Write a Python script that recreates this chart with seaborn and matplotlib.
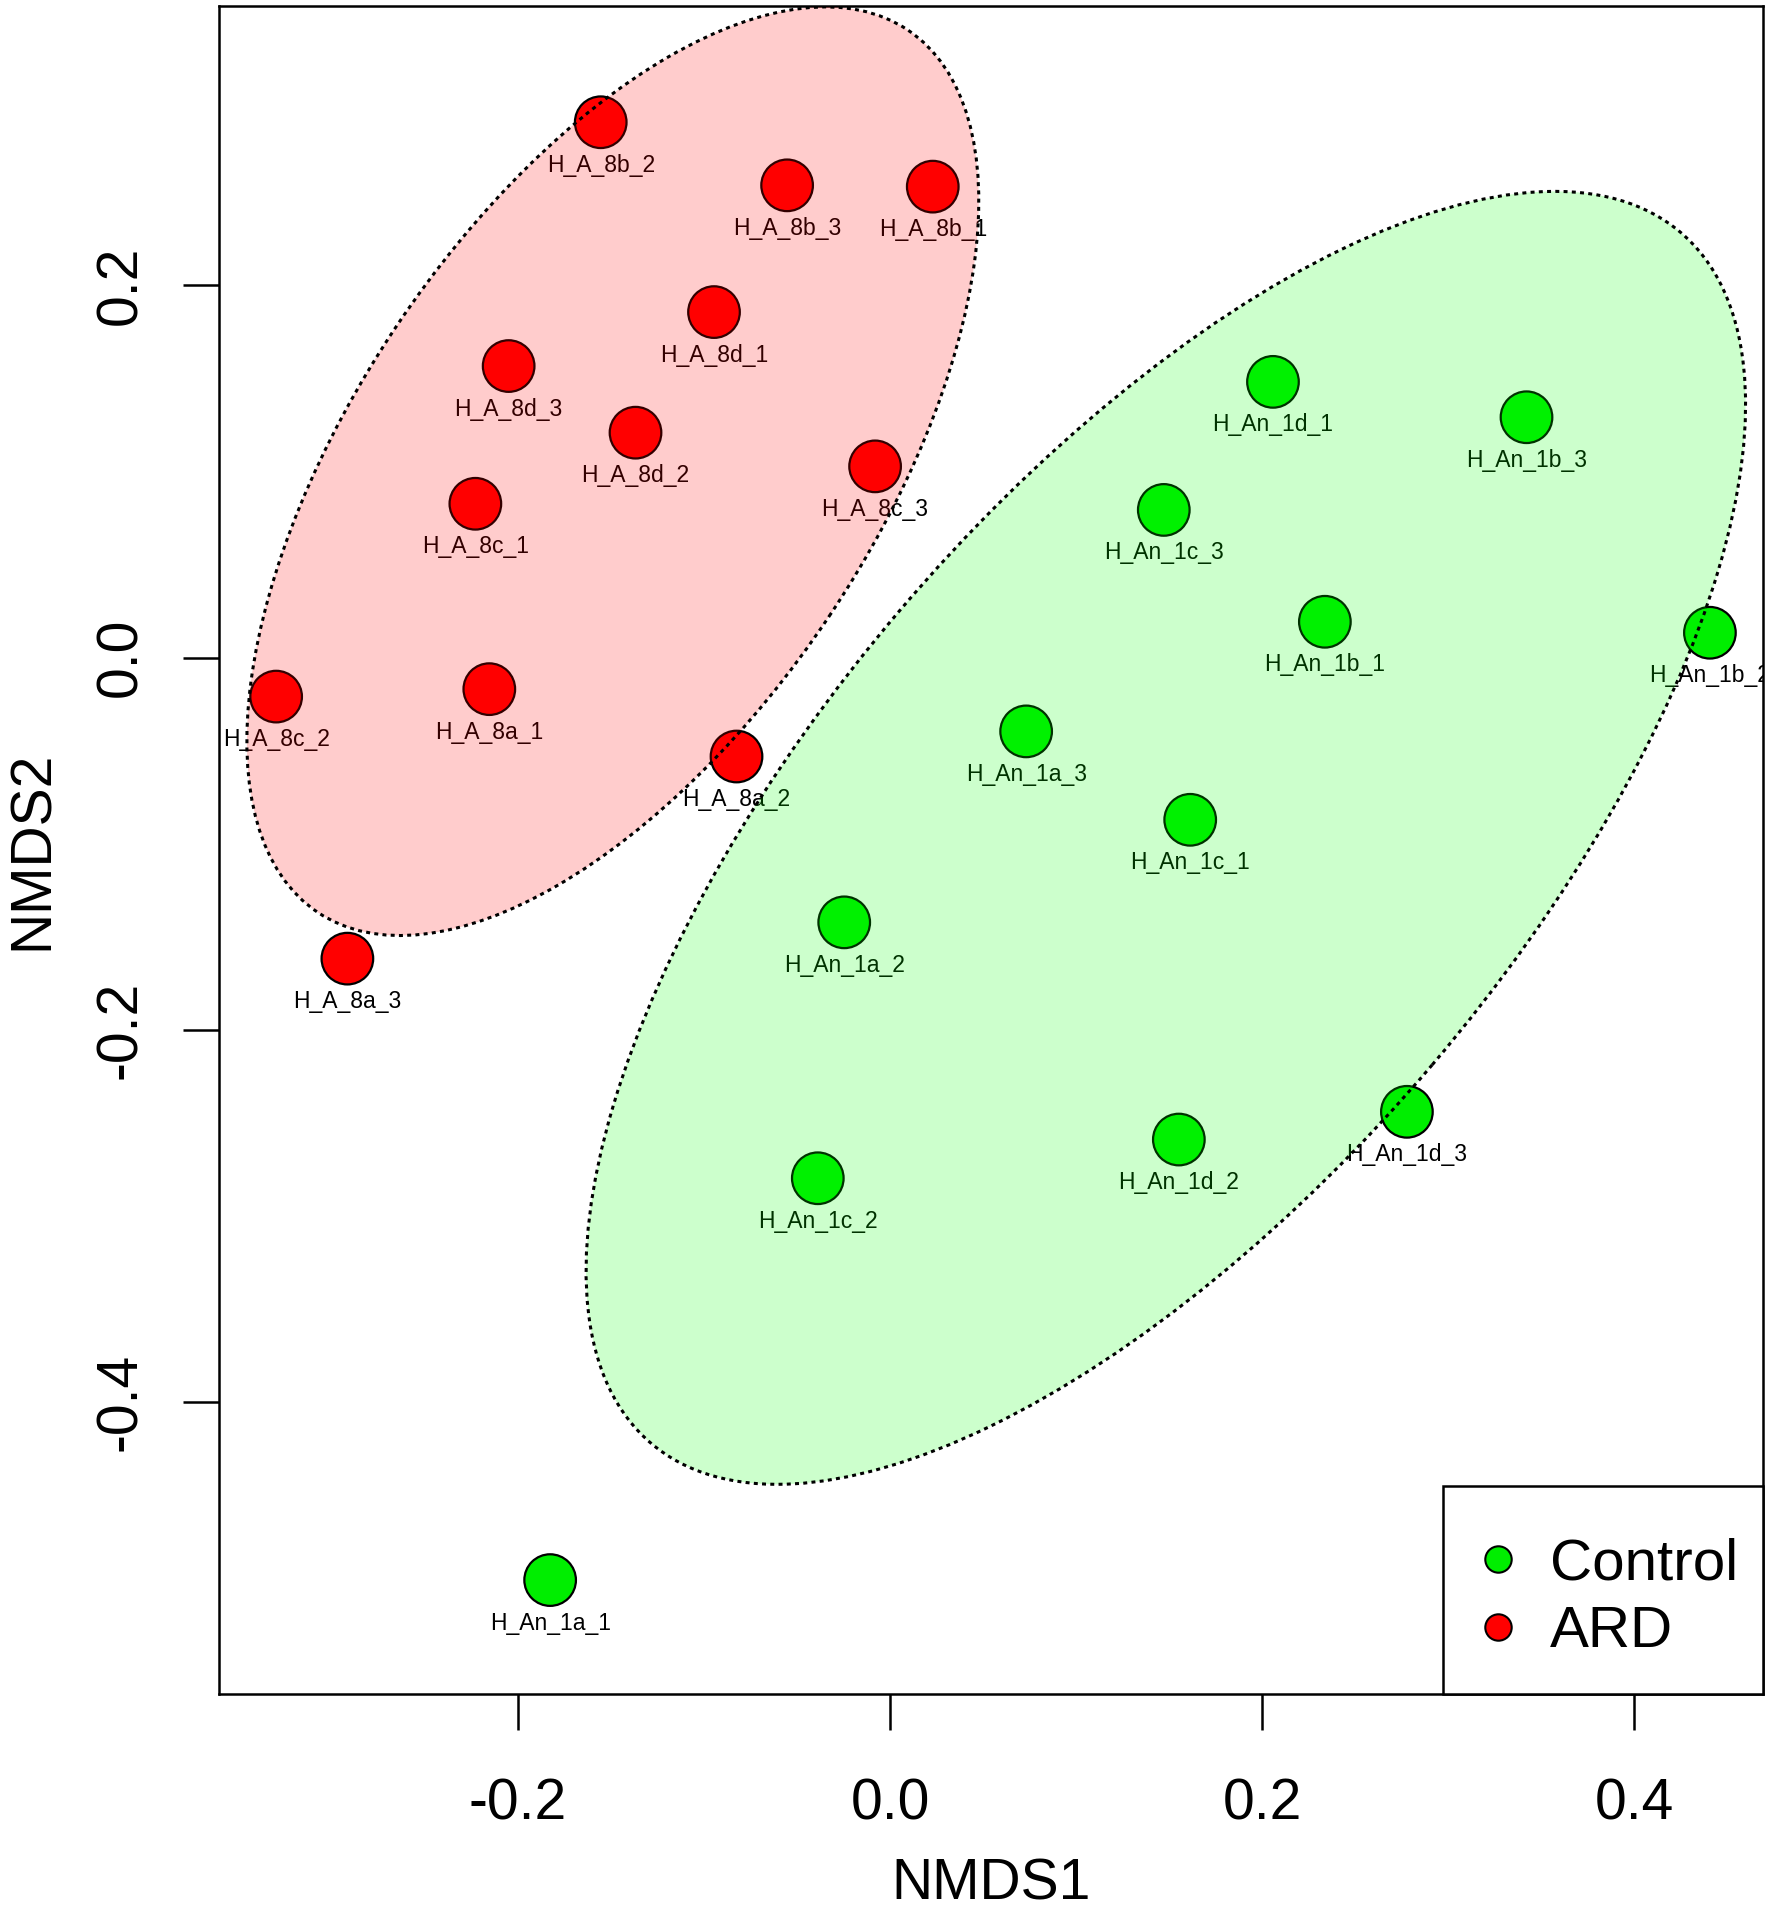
import matplotlib
matplotlib.use("Agg")
import matplotlib.pyplot as plt
import pandas as pd
import seaborn as sns
from matplotlib.lines import Line2D
from matplotlib.patches import Ellipse, Rectangle

# NMDS site scores
sample_names = ["H_A_8b_2", "H_A_8b_3", "H_A_8b_1", "H_A_8d_1", "H_A_8d_3", "H_A_8d_2",
                "H_A_8c_3", "H_A_8c_1", "H_A_8c_2", "H_A_8a_1", "H_A_8a_2", "H_A_8a_3",
                "H_An_1d_1", "H_An_1b_3", "H_An_1c_3", "H_An_1b_1", "H_An_1b_2", "H_An_1a_3",
                "H_An_1c_1", "H_An_1a_2", "H_An_1d_3", "H_An_1d_2", "H_An_1c_2", "H_An_1a_1"]
groups = ["ARD"] * 12 + ["Control"] * 12
nmds1 = [-0.1555, -0.0553, 0.0230, -0.0946, -0.2050, -0.1368,
         -0.0080, -0.2229, -0.3300, -0.2154, -0.0825, -0.2917,
         0.2059, 0.3422, 0.1472, 0.2338, 0.4408, 0.0732,
         0.1614, -0.0246, 0.2779, 0.1553, -0.0388, -0.1827]
nmds2 = [0.2876, 0.2537, 0.2530, 0.1856, 0.1566, 0.1208,
         0.1027, 0.0826, -0.0210, -0.0170, -0.0532, -0.1618,
         0.1481, 0.1291, 0.0793, 0.0192, 0.0133, -0.0397,
         -0.0872, -0.1423, -0.2441, -0.2590, -0.2798, -0.4957]

# group ellipses: centre, semi-axes, rotation (degrees)
ell_groups = ["ARD", "Control"]
ell_cx = [-0.1490, 0.1483]
ell_cy = [0.1001, -0.0969]
ell_a = [0.2852, 0.4271]
ell_b = [0.1400, 0.1881]
ell_angle = [56.2, 49.6]

legend_labels = ["Control", "ARD"]
x_ticks = [-0.2, 0.0, 0.2, 0.4]
y_ticks = [-0.4, -0.2, 0.0, 0.2]

colours = {"Control": "#00ee00", "ARD": "#ff0000"}
fill_colours = {"Control": "#00ff00", "ARD": "#ff0000"}

df = pd.DataFrame({"sample": sample_names, "group": groups,
                   "NMDS1": nmds1, "NMDS2": nmds2})

sns.set_style("ticks")
plt.rcParams["font.family"] = ["Liberation Sans", "DejaVu Sans"]
plt.rcParams["text.color"] = "black"
plt.rcParams["axes.labelcolor"] = "black"

fig = plt.figure(figsize=(17.75, 19.10), dpi=100)
ax = fig.add_axes([0.1234, 0.1131, 0.8698, 0.8838])

sns.scatterplot(data=df, x="NMDS1", y="NMDS2", hue="group", palette=colours,
                s=1380, edgecolor="black", linewidth=1.6, legend=False, ax=ax, zorder=3)

for _, row in df.iterrows():
    ax.annotate(row["sample"], (row["NMDS1"], row["NMDS2"]), xytext=(0, -31),
                textcoords="offset points", ha="center", va="center",
                fontsize=16.5, color="black", zorder=4, annotation_clip=False,
                clip_on=True)

for g, cx, cy, a, b, ang in zip(ell_groups, ell_cx, ell_cy, ell_a, ell_b, ell_angle):
    ax.add_patch(Ellipse((cx, cy), 2 * a, 2 * b, angle=ang,
                         facecolor=fill_colours[g], alpha=0.2, edgecolor="none", zorder=5))
    ax.add_patch(Ellipse((cx, cy), 2 * a, 2 * b, angle=ang, facecolor="none",
                         edgecolor="black", linestyle=(0, (1.3, 1.4)), linewidth=2.2,
                         zorder=6))

ax.set_xlim(-0.3607, 0.4693)
ax.set_ylim(-0.5569, 0.3501)
ax.set_xticks(x_ticks)
ax.set_yticks(y_ticks)
ax.set_xticklabels([f"{v:.1f}" for v in x_ticks])
ax.set_yticklabels([f"{v:.1f}" for v in y_ticks], rotation=90, va="center")
ax.tick_params(axis="both", direction="out", length=26, width=1.8, labelsize=41,
               colors="black", labelcolor="black")
ax.tick_params(axis="x", pad=34)
ax.tick_params(axis="y", pad=25)
for sp in ax.spines.values():
    sp.set_linewidth(1.8)
    sp.set_color("black")

ax.set_xlabel("NMDS1", fontsize=41, color="black")
ax.set_ylabel("NMDS2", fontsize=41, color="black")
ax.xaxis.set_label_coords(0.5, -0.097)
ax.yaxis.set_label_coords(-0.103, 0.5)

# legend box drawn like R's legend(): boxed, bottom right corner
ax.add_patch(Rectangle((0.7927, 0.0), 0.2073, 0.1232, transform=ax.transAxes,
                       facecolor="white", edgecolor="black", linewidth=1.8,
                       zorder=10, clip_on=False))
handles = [Line2D([], [], marker="o", linestyle="none", markersize=19,
                  markerfacecolor=colours[g], markeredgecolor="black", markeredgewidth=1.5)
           for g in legend_labels]
leg = ax.legend(handles, legend_labels, loc="center", bbox_to_anchor=(0.8975, 0.0566),
                fontsize=42, frameon=False, borderpad=0, labelspacing=0.24,
                handlelength=0.93, handletextpad=0.43)
leg.set_zorder(11)

fig.savefig("out.png", dpi=100)
